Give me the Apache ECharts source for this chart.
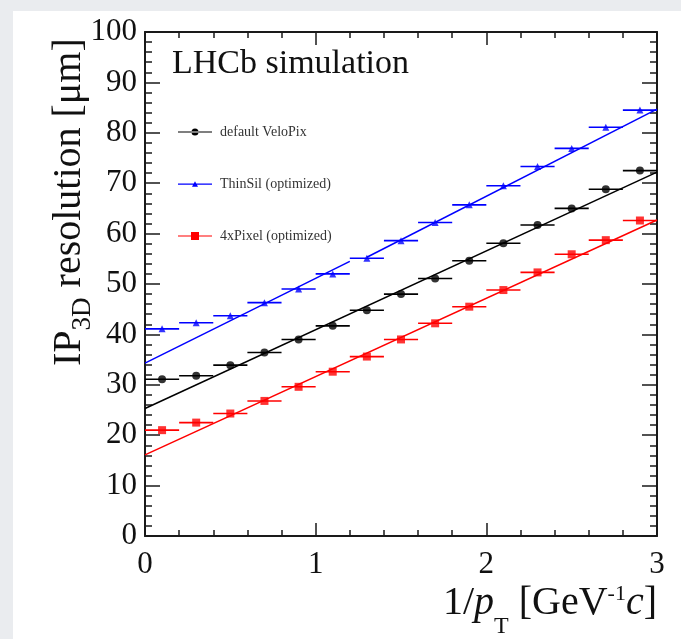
<!DOCTYPE html>
<html>
<head>
<meta charset="utf-8">
<script src="https://cdn.jsdelivr.net/npm/echarts@6/dist/echarts.min.js"></script>
<style>
  html, body { margin: 0; padding: 0; background: #ffffff; overflow: hidden; }
  #chart { width: 681px; height: 639px; }
</style>
</head>
<body>
<div id="chart"></div>
<script>
// bin centres in 1/pT and the measured resolutions (um)
var xCenters = [0.1, 0.3, 0.5, 0.7, 0.9, 1.1, 1.3, 1.5, 1.7, 1.9, 2.1, 2.3, 2.5, 2.7, 2.9];
var binHalfWidth = 0.1;
var veloPix = [31.1, 31.8, 33.9, 36.4, 39.0, 41.7, 44.8, 48.0, 51.1, 54.6, 58.1, 61.7, 65.0, 68.8, 72.5];
var thinSil = [41.1, 42.3, 43.7, 46.3, 49.0, 52.0, 55.1, 58.6, 62.2, 65.7, 69.5, 73.3, 76.9, 81.1, 84.5];
var fourPixel = [21.0, 22.5, 24.3, 26.8, 29.6, 32.6, 35.6, 39.0, 42.2, 45.5, 48.8, 52.3, 55.9, 58.7, 62.6];

// linear fits (end points)
var fitVeloPix = [[0, 25.3], [3, 72.2]];
var fitThinSilA = [[0, 34.3], [1.2, 54.5]];
var fitThinSilB = [[1.3, 55.3], [3, 84.7]];
var fitFourPixel = [[0, 16.1], [3, 62.7]];

var names = ['default VeloPix', 'ThinSil (optimized)', '4xPixel (optimized)'];
var colors = ['#000000', '#0000ff', '#ff0000'];

var serif = 'Liberation Serif';
var frameGray = '#eaecef';

function pairs(ys) {
  return xCenters.map(function (x, i) { return [x, ys[i]]; });
}

// measure text so runs with sub/superscripts can be laid out
var measureCtx = document.createElement('canvas').getContext('2d');
function textWidth(str, font) {
  measureCtx.font = font;
  return measureCtx.measureText(str).width;
}

// runs: {t, size, italic, dy}; returns text elements laid along local x, baseline at y=0
function runElements(runs) {
  var x = 0, out = [];
  runs.forEach(function (r) {
    var font = (r.italic ? 'italic ' : '') + r.size + 'px "' + serif + '"';
    out.push({
      type: 'text',
      x: x,
      y: (r.dy || 0) - 0.34 * r.size,
      style: { text: r.t, font: font, fill: '#111', textAlign: 'left', textVerticalAlign: 'middle' }
    });
    x += textWidth(r.t, font);
  });
  return { els: out, width: x };
}

var yTitle = runElements([
  { t: 'IP', size: 40 },
  { t: '3D', size: 27, dy: 9 },
  { t: ' resolution [\u03bcm]', size: 40 }
]);
var xTitle = runElements([
  { t: '1/', size: 40 },
  { t: 'p', size: 40, italic: true },
  { t: 'T', size: 24, dy: 18 },
  { t: ' [GeV', size: 40 },
  { t: '-1', size: 22, dy: -15 },
  { t: 'c', size: 40, italic: true },
  { t: ']', size: 40 }
]);

var legendIcons = [
  'path://M0,4.4H34V5.6H0Z M13.5,5A3.5,3.5 0 1,0 20.5,5A3.5,3.5 0 1,0 13.5,5Z',
  'path://M0,4.4H34V5.6H0Z M14,7.6L17,2.2L20,7.6Z',
  'path://M0,4.4H34V5.6H0Z M13,1H21V9H13Z'
];

function errorBars(name, color, ys) {
  return {
    name: name,
    type: 'custom',
    data: pairs(ys),
    z: 3,
    itemStyle: { color: color },
    renderItem: function (params, api) {
      var x = api.value(0), y = api.value(1);
      var a = api.coord([x - binHalfWidth, y]);
      var b = api.coord([x + binHalfWidth, y]);
      return {
        type: 'line',
        shape: { x1: a[0], y1: a[1], x2: b[0], y2: b[1] },
        style: { stroke: color, lineWidth: 1.6 }
      };
    }
  };
}

function fitLine(name, color, pts) {
  return {
    name: name,
    type: 'line',
    data: pts,
    showSymbol: false,
    z: 2,
    itemStyle: { color: color },
    lineStyle: { color: color, width: 1.5 },
    silent: true
  };
}

function markers(name, color, ys, symbol, size) {
  return {
    name: name,
    type: 'scatter',
    data: pairs(ys),
    symbol: symbol,
    symbolSize: size,
    z: 4,
    itemStyle: { color: color }
  };
}

var xAxisBase = {
  type: 'value', min: 0, max: 3, interval: 1,
  axisLine: { show: true, onZero: false, lineStyle: { color: '#1a1a1a', width: 2 } },
  axisTick: { show: true, inside: true, length: 13, lineStyle: { color: '#1a1a1a', width: 1.5 } },
  minorTick: { show: true, splitNumber: 5, length: 6, lineStyle: { color: '#1a1a1a', width: 1.5 } },
  splitLine: { show: false }
};
var yAxisBase = {
  type: 'value', min: 0, max: 100, interval: 10,
  axisLine: { show: true, onZero: false, lineStyle: { color: '#1a1a1a', width: 2 } },
  axisTick: { show: true, inside: true, length: 15, lineStyle: { color: '#1a1a1a', width: 1.5 } },
  minorTick: { show: true, splitNumber: 5, length: 7, lineStyle: { color: '#1a1a1a', width: 1.5 } },
  splitLine: { show: false }
};

var chart = echarts.init(document.getElementById('chart'));
chart.setOption({
  backgroundColor: '#ffffff',
  animation: false,
  grid: { left: 145, top: 32, width: 512, height: 504 },
  xAxis: [
    Object.assign({}, xAxisBase, {
      position: 'bottom',
      axisLabel: { margin: 13, color: '#111', fontFamily: serif, fontSize: 31 }
    }),
    Object.assign({}, xAxisBase, { position: 'top', axisLabel: { show: false } })
  ],
  yAxis: [
    Object.assign({}, yAxisBase, {
      position: 'left',
      axisLabel: { margin: 8, color: '#111', fontFamily: serif, fontSize: 31 }
    }),
    Object.assign({}, yAxisBase, { position: 'right', axisLabel: { show: false } })
  ],
  legend: {
    orient: 'vertical',
    left: 178,
    top: 125,
    padding: 0,
    itemWidth: 34,
    itemHeight: 10,
    itemGap: 38,
    selectedMode: false,
    textStyle: { fontFamily: serif, fontSize: 14, color: '#333', padding: [0, 0, 0, 3] },
    data: names.map(function (n, i) { return { name: n, icon: legendIcons[i] }; })
  },
  graphic: [
    { type: 'rect', shape: { x: 0, y: 0, width: 681, height: 11 }, style: { fill: frameGray }, z: -10 },
    { type: 'rect', shape: { x: 0, y: 0, width: 13, height: 639 }, style: { fill: frameGray }, z: -10 },
    {
      type: 'text', left: 172, top: 47,
      style: { text: 'LHCb simulation', font: '34px "' + serif + '"', fill: '#111' }
    },
    { type: 'group', x: 83, y: 366, rotation: Math.PI / 2, children: yTitle.els },
    { type: 'group', x: 657 - xTitle.width, y: 617, children: xTitle.els }
  ],
  series: [
    fitLine(names[0], colors[0], fitVeloPix),
    fitLine(names[1], colors[1], fitThinSilA),
    fitLine(names[1], colors[1], fitThinSilB),
    fitLine(names[2], colors[2], fitFourPixel),
    errorBars(names[0], colors[0], veloPix),
    errorBars(names[1], colors[1], thinSil),
    errorBars(names[2], colors[2], fourPixel),
    markers(names[0], colors[0], veloPix, 'circle', 8),
    markers(names[1], colors[1], thinSil, 'triangle', 7),
    markers(names[2], colors[2], fourPixel, 'rect', 8)
  ]
});
</script>
</body>
</html>
